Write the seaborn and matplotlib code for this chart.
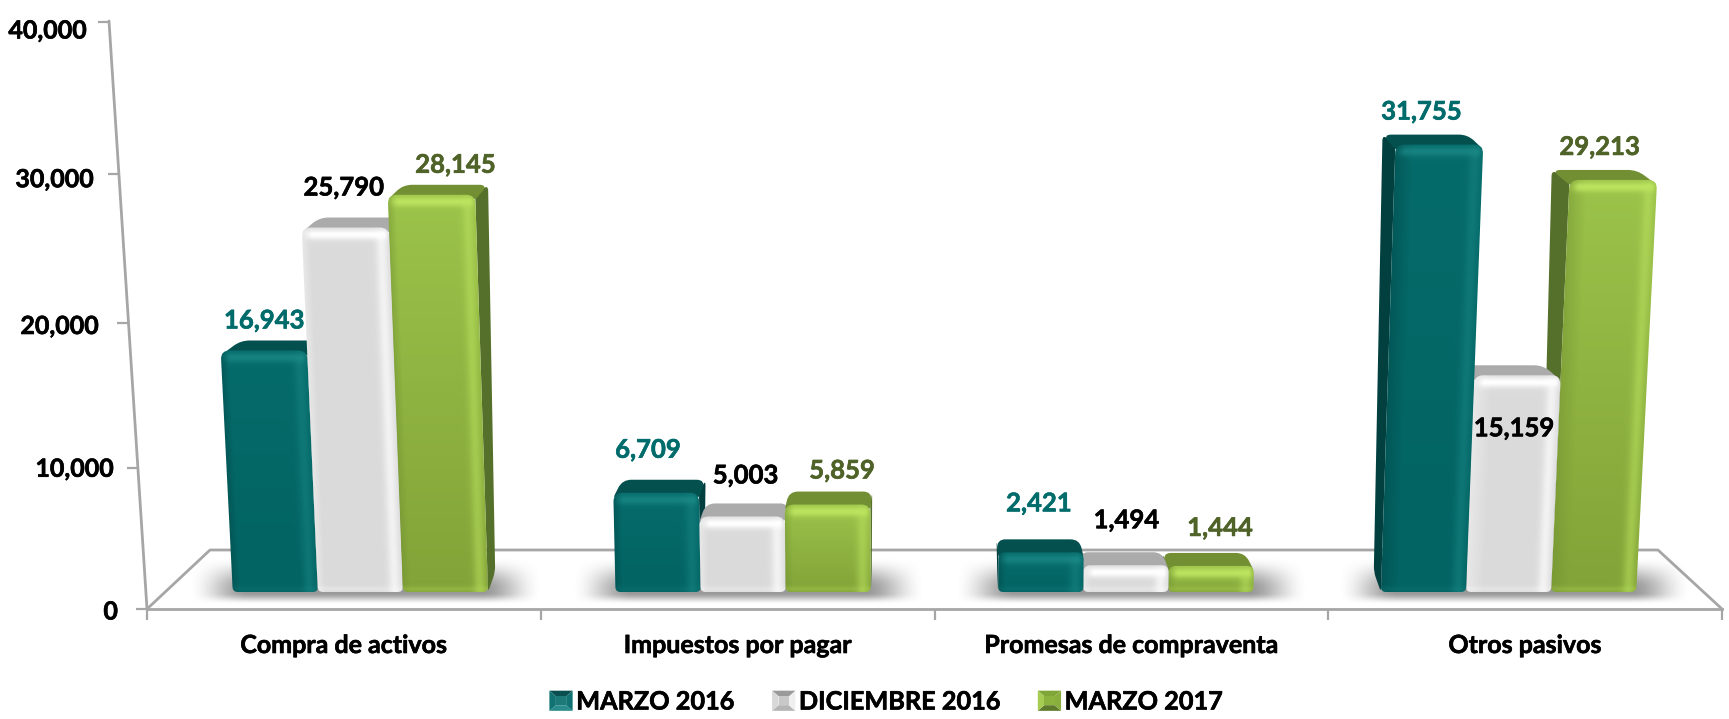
import numpy as np
import pandas as pd
import seaborn as sns
import matplotlib
matplotlib.use("Agg")
import matplotlib.pyplot as plt
import matplotlib.patheffects as pe
from matplotlib.colors import to_rgb
from matplotlib.legend_handler import HandlerBase
from matplotlib.patches import PathPatch, Patch, Polygon
from matplotlib.path import Path
from matplotlib.transforms import Affine2D, ScaledTranslation

# ---------- data ----------
categories = ["Compra de activos", "Impuestos por pagar", "Promesas de compraventa", "Otros pasivos"]
periods = ["MARZO 2016", "DICIEMBRE 2016", "MARZO 2017"]
marzo_2016 = [16943, 6709, 2421, 31755]
diciembre_2016 = [25790, 5003, 1494, 15159]
marzo_2017 = [28145, 5859, 1444, 29213]
y_ticks = [0, 10000, 20000, 30000, 40000]

# ---------- style ----------
W, H = 1729, 719
palette = {"MARZO 2016": "#036665", "DICIEMBRE 2016": "#DADADA", "MARZO 2017": "#8FB340"}
label_colors = {"MARZO 2016": "#006B6B", "DICIEMBRE 2016": "#000000", "MARZO 2017": "#4F6228"}
shades = {
    "MARZO 2016": dict(top="#056B6A", bot="#026463", hi="#1F8E8C", edge="#024A4A",
                       a_top=.65, a_right=.40, a_left=.55, side="#023F3F", roof="#04504F"),
    "DICIEMBRE 2016": dict(top="#DBDBDB", bot="#DADADA", hi="#FFFFFF", edge="#EFEFEF",
                           a_top=1.0, a_right=.65, a_left=.65, side="#A3A3A3", roof="#ABABAB"),
    "MARZO 2017": dict(top="#9CC34A", bot="#82A338", hi="#BDE560", edge="#6F8F30",
                       a_top=.95, a_right=.50, a_left=.45, side="#55702A", roof="#729033"),
}
swatches = {
    "MARZO 2016": ("#0A4F4F", "#107272", "#107272", "#2A8C8A", "#1B7A78"),
    "DICIEMBRE 2016": ("#9A9A9A", "#D8D8D8", "#EFEFEF", "#B5B5B5", "#C8C8C8"),
    "MARZO 2017": ("#7FA636", "#A6CC52", "#8AAE3E", "#5E7A2B", "#8DB33F"),
}
# label offsets from the value point of each bar, in pixels (right, up)
label_dx = {"MARZO 2016": [8, -2, -5, -16], "DICIEMBRE 2016": [0, 8, -5, -11], "MARZO 2017": [24, 17, 1, -13]}
label_dy = {"MARZO 2016": [30, 43, 49, 33], "DICIEMBRE 2016": [40, 41, 45, -53], "MARZO 2017": [30, 34, 38, 33]}
tick_lean = [0, -9.5, -19, -28.5, -38]
tick_drop = [0, 6, 7, 5, 0]
tick_label_dx = [-18, -22, -37, -42, -49]
tick_label_dy = [1, 5, 9, 9, 7]

VPX, KBASE, LEAN = 934.0, 0.972, 1.02e-6
BASE_Y = 592.0
AXIS_GREY = "#A6A6A6"
THICK = [pe.withStroke(linewidth=0.45, foreground="black")]

sns.set_theme(style="white")
plt.rcParams["font.family"] = ["Lato", "DejaVu Sans"]
plt.rcParams["font.weight"] = "bold"

df = pd.DataFrame({
    "categoria": categories * 3,
    "periodo": np.repeat(periods, 4),
    "valor": marzo_2016 + diciembre_2016 + marzo_2017,
})

fig = plt.figure(figsize=(W / 100, H / 100), dpi=100, facecolor="white")
rect = [147 / W, (H - 609) / H, (1722 - 147) / W, (609 - 22) / H]
PX = Affine2D().scale(1, -1).translate(0, H)   # figure pixels, y downwards

# rear "wall" axis with the leaning value scale
wall = fig.add_axes(rect, zorder=1, facecolor="none")
wall.set_ylim(0, 40000)
wall.set_xlim(0, 1)
wall.set_xticks([])
for s in wall.spines.values():
    s.set_visible(False)
wall.set_yticks(y_ticks, [f"{v:,}" for v in y_ticks])
wall.tick_params(axis="y", length=8, width=1.6, color=AXIS_GREY, pad=0, labelsize=18, left=True)
for tick, lean, drop, dx, dy in zip(wall.yaxis.get_major_ticks(), tick_lean, tick_drop, tick_label_dx, tick_label_dy):
    tick.tick1line.set_transform(tick.tick1line.get_transform() + ScaledTranslation(lean / 100, -drop / 100, fig.dpi_scale_trans))
    tick.label1.set_transform(tick.label1.get_transform() + ScaledTranslation(dx / 100, -dy / 100, fig.dpi_scale_trans))
    tick.label1.set_fontweight("bold")
    tick.label1.set_color("black")
    tick.label1.set_path_effects(THICK)
wall.add_line(plt.Line2D([147, 109], [609, 21], transform=PX, color=AXIS_GREY, lw=2, clip_on=False))
wall.add_line(plt.Line2D([147, 210, 1658, 1722], [609, 550, 550, 609], transform=PX, color=AXIS_GREY, lw=2, clip_on=False))

# bars
ax = fig.add_axes(rect, zorder=2, facecolor="none")
sns.barplot(data=df, x="categoria", y="valor", hue="periodo", hue_order=periods, order=categories,
            palette=palette, saturation=1, width=0.667, gap=0, legend=False, ax=ax, zorder=2)
ax.set_xlim(-0.5, 3.5)
ax.set_ylim(-(609 - 586) / 13.9 * 1000, (586 - 22) / 13.9 * 1000)
ax.set_autoscale_on(False)
ax.set_xlabel("")
ax.set_ylabel("")
ax.set_yticks([])
for k, s in ax.spines.items():
    s.set_visible(k == "bottom")
ax.spines["bottom"].set_color(AXIS_GREY)
ax.spines["bottom"].set_linewidth(2)
ax.set_xticks(range(4), categories)
ax.tick_params(axis="x", which="major", length=0, pad=18, labelsize=18, labelcolor="black")
ax.set_xticks(np.arange(-0.5, 4), minor=True)
ax.tick_params(axis="x", which="minor", length=8, width=1.6, color=AXIS_GREY, bottom=True)
for lab in ax.get_xticklabels():
    lab.set_fontweight("bold")
    lab.set_path_effects(THICK)
fig.canvas.draw()


def rounded(pts, radii):
    """Closed path through pts with each corner rounded."""
    pts = [np.array(p, float) for p in pts]
    n = len(pts)
    verts, codes = [], []
    for i in range(n):
        p, a, b = pts[i], pts[i - 1], pts[(i + 1) % n]
        r = radii[i]
        da, db = a - p, b - p
        la, lb = np.hypot(*da), np.hypot(*db)
        r = min(r, la / 2, lb / 2)
        s, e = p + da / la * r, p + db / lb * r
        verts += [s, p, e]
        codes += [Path.MOVETO if i == 0 else Path.LINETO, Path.CURVE3, Path.CURVE3]
    verts.append(verts[0])
    codes.append(Path.CLOSEPOLY)
    return Path(verts, codes)


def to_px(x, y):
    d = ax.transData.transform((x, y))
    return d[0], H - d[1]


def gauss(x, m, s):
    return np.exp(-((x - m) / s) ** 2)


def smooth(x):
    x = np.clip(x, 0, 1)
    return x * x * (3 - 2 * x)


def front_image(st, xl0, xr0, xl1, xr1, ytop, left_wide):
    xa, xb = int(min(xl0, xl1)) - 2, int(max(xr0, xr1)) + 3
    ya, yb = int(ytop) - 2, int(BASE_Y) + 2
    xs, ys = np.meshgrid(np.arange(xa, xb) + .5, np.arange(ya, yb) + .5)
    f = np.clip((BASE_Y - ys) / max(BASE_Y - ytop, 1), 0, 1)
    xl, xr = xl0 + (xl1 - xl0) * f, xr0 + (xr1 - xr0) * f
    u, v, t = xs - xl, xr - xs, ys - ytop
    b = BASE_Y - ys
    ct, cb, hi, ed = [np.array(to_rgb(st[k])) for k in ("top", "bot", "hi", "edge")]
    img = ct[None, None] * f[..., None] + cb[None, None] * (1 - f[..., None])
    mix = lambda im, c, a: im + (c - im) * a[..., None]
    span = 18 if left_wide else 8
    img = mix(img, ed, np.clip(1 - u / span, 0, 1) * st["a_left"])
    img = mix(img, hi, gauss(v, 8, 6) * st["a_right"] * np.clip(t / 8, .3, 1))
    img = mix(img, hi, gauss(t, 7, 5) * st["a_top"] * np.clip(u / 10, .2, 1) * np.clip(v / 5, .2, 1))
    img = mix(img, hi, gauss(b, 3, 3) * st["a_top"] * .25)
    return np.clip(img, 0, 1), (xa, xb, yb, ya)


# soft floor shadows
for i, cat in enumerate(categories):
    cx = to_px(i, 0)[0]
    c = VPX + (cx - VPX) * KBASE
    xa, xb = c - 172, c + 182
    xs, ys = np.meshgrid(np.arange(xa, xb), np.arange(552, 606))
    edge = smooth((xs - xa) / 62) * smooth((xb - xs) / 62)
    yprof = smooth((ys - 556) / 32) * smooth((604 - ys) / 12)
    img = np.zeros(xs.shape + (4,))
    img[..., :3] = .3
    img[..., 3] = .58 * edge * yprof
    ax.imshow(img, extent=(xa, xb, 606, 552), transform=PX, aspect="auto", zorder=1.5, interpolation="bilinear")

# turn each seaborn bar into its beveled, perspective solid
for s_idx, (period, cont) in enumerate(zip(periods, ax.containers)):
    for c_idx, bar in enumerate(cont.patches):
        z = 3 + (c_idx * 10) + (s_idx if c_idx < 2 else 2 - s_idx)
        value = bar.get_height()
        bx0 = bar.get_x()
        bw = bar.get_width()
        x0, _ = to_px(bx0, 0)
        x1, _ = to_px(bx0 + bw, 0)
        _, ytop = to_px(0, value)
        xl0, xr0 = VPX + (x0 - VPX) * KBASE, VPX + (x1 - VPX) * KBASE
        xl1, xr1 = xl0 + (xl0 - VPX) * LEAN * value, xr0 + (xr0 - VPX) * LEAN * value
        st = shades[period]
        right_of_centre = (xl0 + xr0) / 2 > VPX
        # back edge, pulled towards the centre of the view
        shift_top = lambda x: x + (x - VPX) * -0.028
        shift_base = lambda x: x + (x - VPX) * -0.016
        r = 9 if value > 3000 else 7
        depth = 10 if value > 10000 else 13
        ex0, ex1 = (xl0, xl1) if right_of_centre else (xr0, xr1)
        side = rounded([(ex0, BASE_Y), (ex1, ytop), (shift_top(ex1), ytop - depth), (shift_base(ex0), BASE_Y - 20)],
                       [4, 2, 6, 6])
        ax.add_patch(PathPatch(side, facecolor=st["side"], edgecolor="none", transform=PX, zorder=z, clip_on=False))
        roof = rounded([(xl1, ytop + 5), (shift_top(xl1), ytop - depth), (shift_top(xr1), ytop - depth), (xr1, ytop + 5)],
                       [3, 9, 9, 3])
        ax.add_patch(PathPatch(roof, facecolor=st["roof"], edgecolor="none", transform=PX, zorder=z + .1, clip_on=False))
        front = rounded([(xl0, BASE_Y), (xl1, ytop), (xr1, ytop), (xr0, BASE_Y)], [5, r, r, 5])
        img, ext = front_image(st, xl0, xr0, xl1, xr1, ytop, right_of_centre and value > 10000)
        im = ax.imshow(img, extent=ext, transform=PX, aspect="auto", zorder=z + .2, interpolation="bilinear")
        im.set_clip_path(PathPatch(front, transform=PX))
        # value label at the bar's true value
        ax.annotate(f"{int(value):,}", xy=(bx0 + bw / 2, value),
                    xytext=(label_dx[period][c_idx], label_dy[period][c_idx]), textcoords="offset pixels",
                    ha="center", va="center", fontsize=18.5, fontweight="bold",
                    color=label_colors[period], zorder=100, annotation_clip=False,
                    path_effects=[pe.withStroke(linewidth=0.45, foreground=label_colors[period])])
        # the plain bar stays inside the solid, at its true value
        inner0, inner1 = max(xl0, xl1) + 10, min(xr0, xr1) - 10
        d0 = ax.transData.inverted().transform((inner0, 0))[0]
        d1 = ax.transData.inverted().transform((inner1, 0))[0]
        bar.set_x(d0)
        bar.set_width(d1 - d0)
        bar.set_zorder(2)


class PyramidHandler(HandlerBase):
    def create_artists(self, legend, orig_handle, xdescent, ydescent, width, height, fontsize, trans):
        t, l, r, b, c = swatches[orig_handle.get_label()]
        x0, y0, x1, y1 = -xdescent, -ydescent, -xdescent + width, -ydescent + height
        mx, my = (x0 + x1) / 2, (y0 + y1) / 2
        qx, qy = width * .22, height * .22
        p = [(x0, y0), (x1, y0), (x1, y1), (x0, y1)]
        q = [(mx - qx, my - qy), (mx + qx, my - qy), (mx + qx, my + qy), (mx - qx, my + qy)]
        arts = [Polygon([p[0], p[1], q[1], q[0]], facecolor=b), Polygon([p[1], p[2], q[2], q[1]], facecolor=r),
                Polygon([p[2], p[3], q[3], q[2]], facecolor=t), Polygon([p[3], p[0], q[0], q[3]], facecolor=l),
                Polygon(q, facecolor=c)]
        for a in arts:
            a.set_edgecolor("none")
            a.set_transform(trans)
        return arts


handles = [Patch(facecolor=palette[p], label=p) for p in periods]
leg = ax.legend(handles=handles, labels=periods, ncol=3, frameon=False, loc="center",
                bbox_to_anchor=(886 / W, (H - 702) / H), bbox_transform=fig.transFigure,
                prop={"size": 18.2, "weight": "bold"}, handlelength=0.92, handleheight=0.85,
                handletextpad=0.14, columnspacing=1.5, borderpad=0, borderaxespad=0,
                handler_map={Patch: PyramidHandler()})
for txt in leg.get_texts():
    txt.set_color("black")
    txt.set_path_effects(THICK)

fig.savefig("out.png", dpi=100, facecolor="white")
